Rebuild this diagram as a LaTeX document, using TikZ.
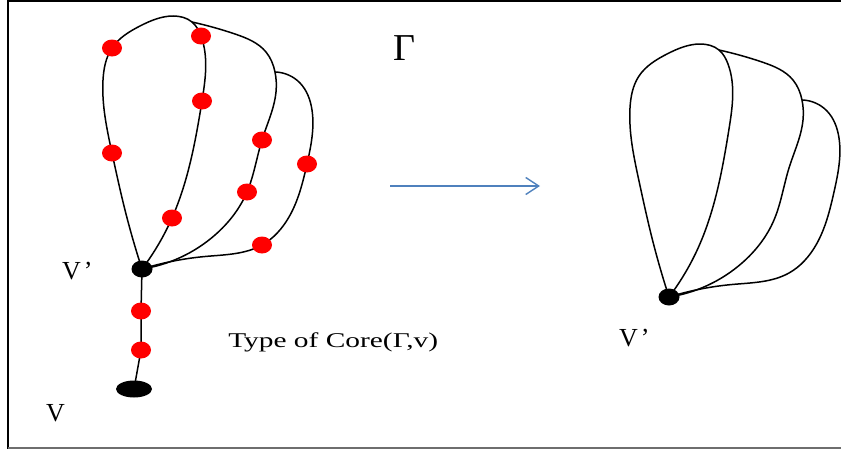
\documentclass[tikz,border=0pt]{standalone}
\usepackage{fontspec}
\setmainfont{Liberation Serif}
\usepackage{tikz}
\usetikzlibrary{arrows.meta, shapes.geometric, backgrounds, hobby}
\definecolor{dotred}{RGB}{255,0,0}
\definecolor{arrowblue}{RGB}{79,129,189}
\definecolor{framegray}{RGB}{110,110,110}

\begin{document}
\begin{tikzpicture}[x=1pt, y=-1pt,
    curve/.style={draw, line width=1.5pt, use Hobby shortcut},
    reddot/.style={ellipse, fill=dotred, inner sep=0pt, minimum width=20pt, minimum height=17pt},
    blackdot/.style={ellipse, fill=black, inner sep=0pt, minimum width=21pt, minimum height=17pt},
    lbl/.style={font=\fontsize{26}{30}\selectfont, inner sep=0pt, anchor=base west},
    arr/.style={-{Straight Barb[length=13pt, width=17pt]}, line width=1.4pt, arrowblue}
  ]
  \useasboundingbox (0,0) rectangle (841,450);
  % frame
  \draw[line width=1.5pt] (8,0.75) -- (841,0.75);
  \draw[line width=1.2pt] (8,0) -- (8,449);
  \draw[line width=2pt, framegray] (8,448) -- (841,448);

  % the two balloons: left one with red points, right one is its core
  \foreach \g/\sx/\sy in {L/0/0, R/527/28}{
    \begin{scope}[shift={(\sx,\sy)}]
      \coordinate (\g-vp) at (142,269);
      \coordinate (\g-a1) at (125,210);
      \coordinate (\g-a2) at (112,153);
      \coordinate (\g-a3) at (103,80);
      \coordinate (\g-a5) at (112,48);
      \coordinate (\g-a6) at (140,26);
      \coordinate (\g-a7) at (173,16);
      \coordinate (\g-j1) at (192,22);
      \coordinate (\g-b1) at (201,36);
      \coordinate (\g-b2) at (202,101);
      \coordinate (\g-b4) at (172,218);
      \coordinate (\g-c1) at (235,34);
      \coordinate (\g-c2) at (266,52);
      \coordinate (\g-j2) at (275,72);
      \coordinate (\g-c3) at (276,92);
      \coordinate (\g-c4) at (262,140);
      \coordinate (\g-c5) at (247,192);
      \coordinate (\g-c6) at (215,235);
      \coordinate (\g-e1) at (300,83);
      \coordinate (\g-e2) at (312,110);
      \coordinate (\g-e4) at (307,164);
      \coordinate (\g-e5) at (289,217);
      \coordinate (\g-e6) at (262,245);
      \coordinate (\g-e7) at (205,256.5);
      \draw[curve] (\g-vp) .. (\g-a1) .. (\g-a2) .. (\g-a3) .. (\g-a5) .. (\g-a6) .. (\g-a7) .. (\g-j1) .. (\g-b1) .. (\g-b2) .. (\g-b4) .. (\g-vp);
      \draw[curve] (\g-j1) .. (\g-c1) .. (\g-c2) .. (\g-j2) .. (\g-c3) .. (\g-c4) .. (\g-c5) .. (\g-c6) .. (\g-vp);
      \draw[curve] (\g-j2) .. (\g-e1) .. (\g-e2) .. (\g-e4) .. (\g-e5) .. (\g-e6) .. (\g-e7) .. (\g-vp);
    \end{scope}
  }

  \node[blackdot] (vpL) at (L-vp) {};
  \node[blackdot] (vpR) at (R-vp) {};
  \node[reddot] (r1) at (L-a5) {};
  \node[reddot] (r2) at (L-a2) {};
  \node[reddot] (r3) at (L-b1) {};
  \node[reddot] (r4) at (L-b2) {};
  \node[reddot] (r5) at (L-b4) {};
  \node[reddot] (r6) at (L-c4) {};
  \node[reddot] (r7) at (L-c5) {};
  \node[reddot] (r8) at (L-e4) {};
  \node[reddot] (r9) at (L-e6) {};
  \node[reddot] (s1) at (141,311) {};
  \node[reddot] (s2) at (141,350) {};
  \node[blackdot, minimum width=36pt] (v) at (134,389) {};
  \begin{scope}[on background layer]
    \draw[line width=1.5pt] (vpL.center) -- (s1.center) -- (s2.center) -- (v.center);
  \end{scope}

  % labels
  \node[lbl] (lvpL) at (62,279) {V\hspace{3pt}’};
  \node[lbl] (lv) at (46,421) {V};
  \node[lbl] (lvpR) at (619,346) {V\hspace{3pt}’};
  \node[lbl, font=\fontsize{38}{40}\selectfont] (gamma) at (393,60) {Γ};
  \node[lbl, font=\fontsize{21}{25}\selectfont, xscale=1.4] (core) at (228,347) {Type of Core(Γ,v)};

  \coordinate (arrs) at (390,186);
  \coordinate (arre) at (540,186);
  \draw[arr] (arrs) -- (arre);
\end{tikzpicture}
\end{document}
